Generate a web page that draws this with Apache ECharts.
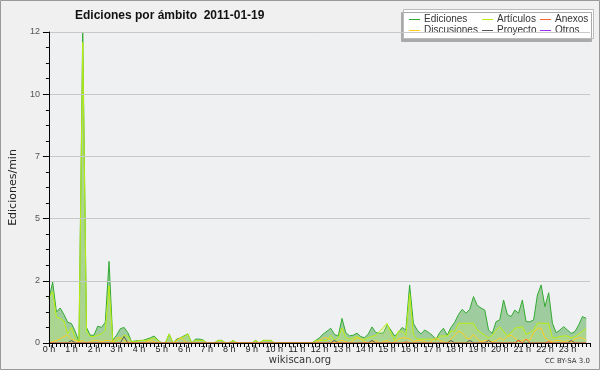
<!DOCTYPE html>
<html lang="es" style="height: 100%">
<head>
<meta charset="utf-8">
<title>Ediciones por ámbito</title>
</head>
<body style="height: 100%; margin: 0">
<div id="container" style="width: 600px; height: 370px"></div>

<script type="text/javascript" src="https://cdn.jsdelivr.net/npm/echarts@6/dist/echarts.min.js"></script>

<script type="text/javascript">

// one value every 10 minutes, 0 h .. 23 h 50
var ediciones = [
    1.7, 2.35, 1.2, 1.35, 1.1, 0.8, 0.75, 0.45, 0.05, 12.0,
    0.6, 0.3, 0.3, 0.65, 0.6, 0.8, 3.15, 0.1, 0.3, 0.55,
    0.6, 0.4, 0.05, 0.08, 0.1, 0.1, 0.15, 0.2, 0.27, 0.12,
    0, 0, 0.35, 0, 0.15, 0.2, 0.28, 0.35, 0, 0.15,
    0.15, 0.12, 0, 0, 0, 0.1, 0.1, 0, 0, 0.1,
    0, 0, 0, 0, 0, 0.1, 0, 0.1, 0.1, 0.1,
    0, 0, 0, 0, 0, 0, 0, 0, 0, 0,
    0, 0.1, 0.2, 0.35, 0.45, 0.57, 0.33, 0.27, 0.95, 0.4,
    0.28, 0.3, 0.38, 0.25, 0.2, 0.35, 0.62, 0.4, 0.38, 0.38,
    0.7, 0.5, 0.27, 0.4, 0.6, 0.5, 2.24, 0.76, 0.5, 0.35,
    0.5, 0.41, 0.3, 0.14, 0.4, 0.57, 0.3, 0.6, 0.8, 1.1,
    1.3, 1.15, 1.3, 1.79, 1.45, 1.35, 1.27, 0.5, 0.37, 0.82,
    0.9, 1.66, 1.1, 1.02, 1.27, 1.15, 1.66, 0.82, 0.82, 0.89,
    1.85, 2.24, 1.4, 1.94, 0.76, 0.4, 0.5, 0.63, 0.5, 0.37,
    0.44, 0.7, 1.02, 0.95
];
var articulos = [
    1.75, 2.0, 1.0, 0.95, 0.85, 0.35, 0.6, 0.2, 0.05, 11.6,
    0.45, 0.25, 0.25, 0.3, 0.35, 0.5, 2.2, 0.05, 0.1, 0.15,
    0.3, 0.25, 0.05, 0.05, 0.1, 0.1, 0.1, 0.15, 0.2, 0.1,
    0, 0, 0.35, 0, 0.1, 0.2, 0.25, 0.35, 0, 0.1,
    0.1, 0.1, 0, 0, 0, 0.1, 0.1, 0, 0, 0.1,
    0, 0, 0, 0, 0, 0.1, 0, 0.1, 0.1, 0.1,
    0, 0, 0, 0, 0, 0, 0, 0, 0, 0,
    0, 0.1, 0.1, 0.1, 0.1, 0.3, 0.1, 0.2, 0.58, 0.2,
    0.15, 0.2, 0.25, 0.15, 0.15, 0.2, 0.25, 0.3, 0.45, 0.6,
    0.76, 0.4, 0.1, 0.46, 0.46, 0.3, 1.9, 0.33, 0.15, 0.15,
    0.15, 0.15, 0.15, 0.1, 0.27, 0.27, 0.27, 0.46, 0.46, 0.76,
    0.76, 0.76, 0.76, 0.76, 0.5, 0.4, 0.3, 0.2, 0.3, 0.5,
    0.63, 0.45, 0.27, 0.4, 0.57, 0.6, 0.63, 0.33, 0.4, 0.5,
    0.76, 0.76, 0.76, 0.76, 0.2, 0.2, 0.25, 0.27, 0.27, 0.2,
    0.25, 0.35, 0.46, 0.57
];
var discusiones = [
    0, 0.05, 0.1, 0.15, 0.25, 0.3, 0.15, 0.1, 0.05, 0.1,
    0, 0.05, 0.1, 0.1, 0.05, 0.1, 0.1, 0.05, 0.2, 0.2,
    0.1, 0.05, 0, 0, 0, 0, 0.05, 0.1, 0.05, 0,
    0, 0, 0, 0, 0.1, 0.2, 0.1, 0, 0, 0,
    0, 0, 0, 0, 0, 0, 0, 0, 0, 0,
    0, 0, 0, 0, 0, 0, 0, 0, 0, 0,
    0, 0, 0, 0, 0, 0, 0, 0, 0, 0,
    0, 0, 0.1, 0.2, 0.2, 0.1, 0, 0.05, 0.1, 0.05,
    0, 0.1, 0.2, 0.15, 0.05, 0, 0.05, 0.1, 0, 0.05,
    0.1, 0, 0.05, 0.15, 0.2, 0.2, 0.15, 0.05, 0.1, 0.1,
    0.05, 0, 0.1, 0.2, 0.1, 0.05, 0, 0.15, 0.3, 0.46,
    0.4, 0.2, 0.15, 0.33, 0.15, 0.05, 0.1, 0.1, 0.05, 0.1,
    0.2, 0.1, 0.25, 0.3, 0.2, 0.05, 0.1, 0.15, 0.1, 0.4,
    0.57, 0.57, 0.2, 0.1, 0.05, 0.1, 0.1, 0.05, 0.1, 0.05,
    0.15, 0.2, 0.2, 0.1
];
var proyecto = [
    0, 0, 0, 0, 0, 0, 0.1, 0, 0, 0,
    0, 0, 0, 0, 0, 0, 0, 0, 0, 0,
    0.25, 0, 0, 0, 0, 0, 0, 0, 0, 0,
    0, 0, 0, 0, 0, 0, 0, 0, 0, 0,
    0, 0, 0, 0, 0, 0, 0, 0, 0, 0,
    0, 0, 0, 0, 0, 0, 0, 0, 0, 0,
    0, 0, 0, 0, 0, 0, 0, 0, 0, 0,
    0, 0, 0, 0, 0, 0, 0.1, 0, 0, 0,
    0, 0, 0, 0, 0, 0, 0.1, 0, 0, 0,
    0, 0, 0, 0, 0, 0, 0, 0, 0, 0,
    0, 0, 0, 0, 0, 0, 0, 0.1, 0, 0,
    0, 0, 0.1, 0, 0, 0, 0, 0.1, 0, 0,
    0, 0, 0, 0, 0, 0.1, 0, 0, 0, 0,
    0, 0, 0, 0, 0, 0, 0, 0, 0, 0.1,
    0, 0, 0, 0
];
var anexos = [
    0, 0, 0, 0, 0, 0, 0, 0, 0, 0,
    0, 0, 0, 0, 0, 0, 0, 0, 0, 0,
    0, 0, 0, 0, 0, 0, 0, 0, 0, 0,
    0, 0, 0, 0, 0, 0, 0, 0, 0, 0,
    0, 0, 0, 0, 0, 0, 0, 0, 0, 0,
    0, 0, 0, 0, 0, 0, 0, 0, 0, 0,
    0, 0, 0, 0, 0, 0, 0, 0, 0, 0,
    0, 0, 0, 0, 0, 0, 0, 0, 0, 0,
    0, 0, 0, 0, 0, 0, 0, 0, 0, 0,
    0, 0, 0, 0, 0, 0.05, 0, 0, 0, 0,
    0, 0, 0, 0, 0, 0, 0, 0, 0, 0,
    0, 0, 0, 0, 0, 0, 0, 0, 0, 0,
    0, 0, 0, 0, 0, 0.1, 0, 0.15, 0, 0,
    0, 0, 0, 0.05, 0, 0, 0, 0, 0, 0,
    0, 0, 0, 0
];
var otros = [];

var hourTicks = [0, 24];
var yTicks = [0, 12, 2.4];

function toPoints(values) {
    return values.map(function (v, i) { return [i / 6, v]; });
}

var font = 'DejaVu Sans';
var small = 'Liberation Sans';
var dom = document.getElementById('container');
var myChart = echarts.init(dom, null, { renderer: 'canvas' });

function lineSeries(name, color, values, extra) {
    var s = {
        name: name,
        type: 'line',
        data: toPoints(values),
        symbol: 'none',
        color: color,
        lineStyle: { width: 1, color: color },
        emphasis: { disabled: true }
    };
    return Object.assign(s, extra || {});
}

function legendCol(left, names) {
    return {
        orient: 'vertical',
        left: left,
        top: 14,
        padding: 0,
        data: names,
        icon: 'rect',
        itemWidth: 11,
        itemHeight: 1,
        itemGap: 0,
        selectedMode: false,
        textStyle: { fontFamily: small, fontSize: 10, color: '#333', lineHeight: 11, padding: [0, 0, 0, -1] }
    };
}

var option = {
    animation: false,
    backgroundColor: '#f0f0f0',
    title: {
        text: 'Ediciones por ámbito  2011-01-19',
        left: 75,
        top: 10,
        padding: 0,
        textStyle: { fontFamily: small, fontSize: 12, fontWeight: 'bold', color: '#111' }
    },
    legend: [
        legendCol(409, ['Ediciones', 'Discusiones']),
        legendCol(482, ['Artículos', 'Proyecto']),
        legendCol(540, ['Anexos', 'Otros'])
    ],
    graphic: [
        {
            type: 'rect', z: -1,
            shape: { x: 0.5, y: 0.5, width: 599, height: 369 },
            style: { fill: null, stroke: '#999', lineWidth: 1 }
        },
        {
            type: 'rect', z: 0,
            shape: { x: 403.5, y: 9.5, width: 190, height: 29 },
            style: {
                fill: '#fff', stroke: '#bbb', lineWidth: 1,
                shadowColor: '#aaa', shadowBlur: 0, shadowOffsetX: -2, shadowOffsetY: 3
            }
        },
        {
            type: 'text', left: 'center', top: 355,
            style: { text: 'wikiscan.org', fontFamily: font, fontSize: 10, fill: '#333' }
        },
        {
            type: 'text', right: 10, top: 358,
            style: { text: 'CC BY-SA 3.0', fontFamily: font, fontSize: 7, fill: '#333' }
        }
    ],
    grid: {
        left: 46, right: 10, top: 32, bottom: 27,
        show: true, backgroundColor: '#eef0f1', borderWidth: 0
    },
    xAxis: {
        type: 'value',
        min: hourTicks[0],
        max: hourTicks[1],
        interval: 1,
        z: 5,
        axisLine: { lineStyle: { color: '#000', width: 1 } },
        axisTick: { length: 4, lineStyle: { color: '#000' } },
        minorTick: { show: true, splitNumber: 6, length: 4, lineStyle: { color: '#000' } },
        splitLine: { show: false },
        axisLabel: {
            margin: 2,
            fontFamily: small, fontSize: 9, color: '#222',
            formatter: function (v) { return v < 24 ? v + ' h' : ''; }
        }
    },
    yAxis: {
        type: 'value',
        min: yTicks[0],
        max: yTicks[1],
        interval: yTicks[2],
        z: 5,
        name: 'Ediciones/min',
        nameLocation: 'middle',
        nameGap: 28,
        nameTextStyle: { fontFamily: font, fontSize: 11, color: '#222' },
        axisLine: { show: true, lineStyle: { color: '#000', width: 1 } },
        axisTick: { show: true, length: 6, lineStyle: { color: '#000' } },
        minorTick: { show: true, splitNumber: 4, length: 3, lineStyle: { color: '#000' } },
        splitLine: { lineStyle: { color: '#c8c8c8' } },
        axisLabel: {
            margin: 9,
            fontFamily: small, fontSize: 9, color: '#555',
            formatter: function (v) { return Math.round(v); }
        }
    },
    series: [
        lineSeries('Ediciones', '#33aa33', ediciones, {
            areaStyle: { color: '#9fcc9f', opacity: 1 }, z: 2
        }),
        lineSeries('Artículos', '#bbee11', articulos, {
            areaStyle: { color: '#ccee66', opacity: 0.25 }, z: 3
        }),
        lineSeries('Discusiones', '#ffcc22', discusiones, { z: 3 }),
        lineSeries('Proyecto', '#555555', proyecto, { z: 3 }),
        lineSeries('Anexos', '#ff6633', anexos, { z: 3 }),
        lineSeries('Otros', '#9933ff', otros, { z: 3 })
    ]
};

myChart.setOption(option);
window.addEventListener('resize', myChart.resize);
</script>
</body>
</html>
